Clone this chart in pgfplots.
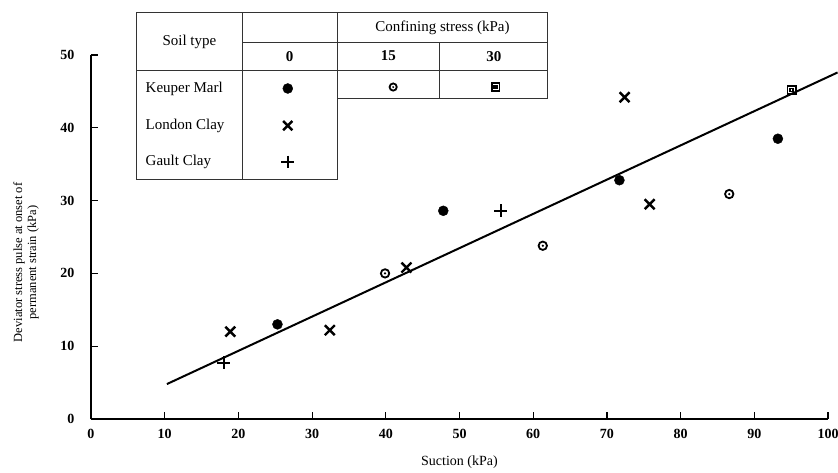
\documentclass[border=0pt]{standalone}
\usepackage{fontspec}
\setmainfont{Liberation Serif}
\usepackage{pgfplots}
\pgfplotsset{compat=1.18}

\pgfdeclareplotmark{cdot}{%
 \pgfpathcircle{\pgfpointorigin}{\pgfplotmarksize}\pgfusepathqstroke
 \pgfpathcircle{\pgfpointorigin}{0.3\pgfplotmarksize}\pgfusepathqfill}
\pgfdeclareplotmark{sqdot}{%
 \pgfpathrectangle{\pgfpoint{-\pgfplotmarksize}{-\pgfplotmarksize}}{\pgfpoint{2\pgfplotmarksize}{2\pgfplotmarksize}}\pgfusepathqstroke
 \pgfpathrectangle{\pgfpoint{-0.35\pgfplotmarksize}{-0.35\pgfplotmarksize}}{\pgfpoint{0.7\pgfplotmarksize}{0.7\pgfplotmarksize}}\pgfusepathqstroke}

\begin{document}
\begin{tikzpicture}
\begin{axis}[
 at={(0,0)}, anchor=south west,
 scale only axis, width=737pt, height=364pt,
 xmin=0, xmax=100, ymin=0, ymax=50,
 clip=false,
 axis x line*=bottom, axis y line*=left,
 axis line style={line width=1.2pt,-},
 xtick={0,10,...,100}, ytick={0,10,...,50},
 tick align=inside, major tick length=7pt,
 every tick/.style={black,line width=1.2pt},
 /pgf/number format/assume math mode=true,
 ticklabel style={font=\bfseries\fontsize{14}{14}\selectfont},
 xticklabel style={yshift=-7pt},
 yticklabel style={xshift=-13pt},
 xlabel={Suction (kPa)},
 xlabel style={font=\fontsize{14}{14}\selectfont, at={(axis description cs:0.5,0)}, anchor=center, yshift=-43pt},
 ylabel={Deviator stress pulse at onset of\\permanent strain (kPa)},
 ylabel style={font=\fontsize{12.5}{14}\selectfont, align=center, at={(axis description cs:-0.088,0.43)}, anchor=center},
]
% fitted line
\addplot[black, line width=2pt] coordinates {(10.3,4.8) (101.3,47.6)};
% Keuper Marl, confining 0
\addplot[only marks, mark=*, mark size=5pt, black] coordinates {(25.3,13.0) (47.8,28.6) (71.7,32.8) (93.2,38.5)};
% Keuper Marl, confining 15
\addplot[only marks, mark=cdot, mark size=4.2pt, line width=1.8pt, black] coordinates {(39.9,20.0) (61.3,23.8) (86.6,30.9)};
% Keuper Marl, confining 30
\addplot[only marks, mark=sqdot, mark size=4.3pt, line width=1.8pt, black] coordinates {(95.1,45.2)};
% London Clay
\addplot[only marks, mark=x, mark size=7pt, line width=2.4pt, black] coordinates {(18.9,12.0) (32.4,12.2) (42.8,20.8) (72.4,44.2) (75.8,29.5)};
% Gault Clay
\addplot[only marks, mark=+, mark size=6.5pt, line width=2.2pt, black] coordinates {(18.0,7.7) (55.6,28.6)};

% legend table
\begin{scope}[line width=0.9pt, draw=black!80]
\draw (axis cs:6.2,55.8) rectangle (axis cs:33.4,32.9);
\draw (axis cs:20.5,55.8) -- (axis cs:20.5,32.9);
\draw (axis cs:6.2,47.9) -- (axis cs:62.0,47.9);
\draw (axis cs:33.4,55.8) -- (axis cs:62,55.8) -- (axis cs:62,44.05) -- (axis cs:33.4,44.05);
\draw (axis cs:20.5,51.7) -- (axis cs:62,51.7);
\draw (axis cs:47.3,51.7) -- (axis cs:47.3,44.05);
\end{scope}
\begin{scope}[font=\fontsize{15}{15}\selectfont]
\node at (axis cs:13.35,51.85) {Soil type};
\node at (axis cs:47.7,53.75) {Confining stress (kPa)};
\node[font=\bfseries\fontsize{15}{15}\selectfont] at (axis cs:26.95,49.85) {0};
\node[font=\bfseries\fontsize{15}{15}\selectfont] at (axis cs:40.35,49.85) {15};
\node[font=\bfseries\fontsize{15}{15}\selectfont] at (axis cs:54.65,49.85) {30};
\node[anchor=west, inner sep=0pt] at (axis cs:7.4,45.4) {Keuper Marl};
\node[anchor=west, inner sep=0pt] at (axis cs:7.4,40.3) {London Clay};
\node[anchor=west, inner sep=0pt] at (axis cs:7.4,35.3) {Gault Clay};
\end{scope}
\addplot[only marks, mark=*, mark size=5pt, black, forget plot] coordinates {(26.7,45.4)};
\addplot[only marks, mark=x, mark size=6.5pt, line width=2.4pt, black, forget plot] coordinates {(26.7,40.3)};
\addplot[only marks, mark=+, mark size=6.3pt, line width=2.2pt, black, forget plot] coordinates {(26.7,35.3)};
\addplot[only marks, mark=cdot, mark size=3.6pt, line width=1.8pt, black, forget plot] coordinates {(41.0,45.6)};
\addplot[only marks, mark=sqdot, mark size=3.8pt, line width=1.8pt, black, forget plot] coordinates {(54.9,45.6)};
\end{axis}
\pgfresetboundingbox
\path (-91pt,-53pt) rectangle (747pt,419pt);
\end{tikzpicture}
\end{document}
